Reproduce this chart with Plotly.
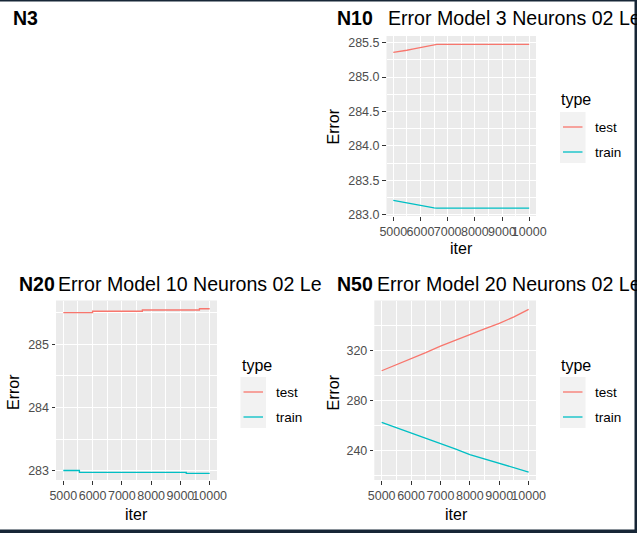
import plotly.graph_objects as go

W, H = 637, 533

# ---------------- data ----------------
iter_ticks = [5000, 6000, 7000, 8000, 9000, 10000]
iter_minor = [5500, 6500, 7500, 8500, 9500]

# N10 : Error Model 3 Neurons
n10_iter = [5000, 5250, 5500, 5750, 6000, 6250, 6500, 6600, 7000, 8000, 9000, 10000]
n10_test = [285.36, 285.37, 285.39, 285.41, 285.43, 285.45, 285.47, 285.475, 285.475, 285.475, 285.475, 285.475]
n10_train = [283.21, 283.19, 283.17, 283.15, 283.13, 283.12, 283.10, 283.095, 283.095, 283.095, 283.095, 283.095]
n10_yticks = [283.0, 283.5, 284.0, 284.5, 285.0, 285.5]
n10_yminor = [283.25, 283.75, 284.25, 284.75, 285.25]

# N20 : Error Model 10 Neurons
n20_test_iter = [5000, 6000, 7700, 9650, 10000]
n20_test = [285.50, 285.52, 285.54, 285.56, 285.56]
n20_train_iter = [5000, 5550, 9200, 10000]
n20_train = [283.005, 282.975, 282.96, 282.96]
n20_yticks = [283, 284, 285]
n20_yminor = [283.5, 284.5, 285.5]

# N50 : Error Model 20 Neurons
n50_iter = [5000, 5500, 6000, 6500, 7000, 7500, 8000, 8500, 9000, 9500, 10000]
n50_test = [303.6, 308.4, 312.9, 318.0, 323.2, 328.0, 332.7, 337.0, 341.4, 346.5, 352.5]
n50_train = [262.5, 258.3, 254.5, 250.3, 245.8, 241.3, 236.8, 233.3, 230.2, 226.5, 222.8]
n50_yticks = [240, 280, 320]
n50_yminor = [220, 260, 300, 340]

series_names = ["test", "train"]
TEST_COLOR = "#F8766D"
TRAIN_COLOR = "#00BFC4"
FONT = "Liberation Sans, Arial, sans-serif"
TICK_SIZE = 12.5


def px(x):
    return x / W


def py(y):
    return 1 - y / H


fig = go.Figure()

panels = [
    ("", n10_iter, n10_test, n10_iter, n10_train),
    ("2", n20_test_iter, n20_test, n20_train_iter, n20_train),
    ("3", n50_iter, n50_test, n50_iter, n50_train),
]
for suf, xt, yt, xr, yr in panels:
    shape = "hv" if suf == "2" else "linear"
    fig.add_trace(go.Scatter(x=xt, y=yt, mode="lines", name="test",
                             line=dict(color=TEST_COLOR, width=1.3, shape=shape),
                             xaxis="x" + suf, yaxis="y" + suf, showlegend=False))
    fig.add_trace(go.Scatter(x=xr, y=yr, mode="lines", name="train",
                             line=dict(color=TRAIN_COLOR, width=1.3, shape=shape),
                             xaxis="x" + suf, yaxis="y" + suf, showlegend=False))


def xaxis_cfg(dom, anchor):
    return dict(domain=dom, anchor=anchor, range=[4750, 10250],
                tickmode="array", tickvals=iter_ticks,
                ticktext=[str(v) for v in iter_ticks], tickangle=0,
                showgrid=True, gridcolor="white", gridwidth=1.4,
                minor=dict(tickvals=iter_minor, showgrid=True, gridcolor="white",
                           gridwidth=0.7, ticks=""),
                ticks="outside", ticklen=3.5, tickwidth=1, tickcolor="#333333",
                tickfont=dict(family=FONT, size=TICK_SIZE, color="#4D4D4D"),
                zeroline=False, showline=False, fixedrange=True, automargin=False)


def yaxis_cfg(dom, anchor, rng, ticks, minor, fmt):
    return dict(domain=dom, anchor=anchor, range=rng,
                tickmode="array", tickvals=ticks, tickformat=fmt, tickangle=0,
                showgrid=True, gridcolor="white", gridwidth=1.4,
                minor=dict(tickvals=minor, showgrid=True, gridcolor="white",
                           gridwidth=0.7, ticks=""),
                ticks="outside", ticklen=3.5, tickwidth=1, tickcolor="#333333",
                tickfont=dict(family=FONT, size=TICK_SIZE, color="#4D4D4D"),
                zeroline=False, showline=False, fixedrange=True, automargin=False)


# panel pixel boxes (left, right, top, bottom)
b10 = (386.5, 536, 36, 216)
b20 = (56, 217, 300.5, 480)
b50 = (374.3, 536, 300.5, 480)

fig.update_layout(
    xaxis=xaxis_cfg([px(b10[0]), px(b10[1])], "y"),
    yaxis=yaxis_cfg([py(b10[3]), py(b10[2])], "x", [282.982, 285.597], n10_yticks, n10_yminor, ".1f"),
    xaxis2=xaxis_cfg([px(b20[0]), px(b20[1])], "y2"),
    yaxis2=yaxis_cfg([py(b20[3]), py(b20[2])], "x2", [282.855, 285.69], n20_yticks, n20_yminor, "d"),
    xaxis3=xaxis_cfg([px(b50[0]), px(b50[1])], "y3"),
    yaxis3=yaxis_cfg([py(b50[3]), py(b50[2])], "x3", [216.5, 359.6], n50_yticks, n50_yminor, "d"),
)

annotations = []
shapes = []


def ann(text, x, y, size, color="black", xanchor="left", angle=0, bold=False):
    annotations.append(dict(
        text=("<b>%s</b>" % text) if bold else text,
        x=px(x), y=py(y), xref="paper", yref="paper",
        xanchor=xanchor, yanchor="middle", showarrow=False, textangle=angle,
        font=dict(family=FONT, size=size, color=color)))


# panel labels and titles
ann("N3", 10.5, 18.5, 19.5, bold=True)
ann("N10", 335.5, 18.5, 19.5, bold=True)
ann("Error Model 3 Neurons 02 Le", 386, 18.5, 19.6)
ann("N20", 16.5, 283.5, 19.5, bold=True)
ann("Error Model 10 Neurons 02 Le", 55.5, 283.5, 19.6)
ann("N50", 335, 283.5, 19.5, bold=True)
ann("Error Model 20 Neurons 02 Le", 375, 283.5, 19.6)

# axis titles
ann("iter", 461.5, 248, 16, xanchor="center")
ann("Error", 333, 126.5, 16, xanchor="center", angle=-90)
ann("iter", 136, 514, 16, xanchor="center")
ann("Error", 13.5, 392.5, 16, xanchor="center", angle=-90)
ann("iter", 456.5, 514, 16, xanchor="center")
ann("Error", 333, 392.5, 16, xanchor="center", angle=-90)

# legends (ggplot-style keys)
legends = [
    (560, 100, 112, 163, 127, 152),
    (240.5, 365, 377, 428, 392, 417),
    (560, 365, 377, 428, 392, 417),
]
for lx, ty, kt, kb, r1, r2 in legends:
    ann("type", lx - 1, ty, 16)
    shapes.append(dict(type="rect", xref="paper", yref="paper",
                       x0=px(lx), x1=px(lx + 25.5), y0=py(kb), y1=py(kt),
                       fillcolor="#F2F2F2", line=dict(width=0), layer="below"))
    for name, col, ry in zip(series_names, [TEST_COLOR, TRAIN_COLOR], [r1, r2]):
        shapes.append(dict(type="line", xref="paper", yref="paper",
                           x0=px(lx + 3), x1=px(lx + 22.5), y0=py(ry), y1=py(ry),
                           line=dict(color=col, width=1.3)))
        ann(name, lx + 33, ry, 13.5)

# outer dark frame (screenshot border)
frame_col = "#172636"
shapes.append(dict(type="rect", xref="paper", yref="paper", x0=0, x1=1,
                   y0=py(1.5), y1=1, fillcolor=frame_col, line=dict(width=0), layer="above"))
shapes.append(dict(type="rect", xref="paper", yref="paper", x0=px(634.5), x1=1,
                   y0=0, y1=1, fillcolor=frame_col, line=dict(width=0), layer="above"))
shapes.append(dict(type="rect", xref="paper", yref="paper", x0=0, x1=1,
                   y0=0, y1=py(529.5), fillcolor=frame_col, line=dict(width=0), layer="above"))

fig.update_layout(
    width=W, height=H,
    margin=dict(l=0, r=0, t=0, b=0),
    paper_bgcolor="white", plot_bgcolor="#EBEBEB",
    showlegend=False,
    annotations=annotations, shapes=shapes,
    font=dict(family=FONT),
)

fig.write_html("out.html", config={"displayModeBar": False})
